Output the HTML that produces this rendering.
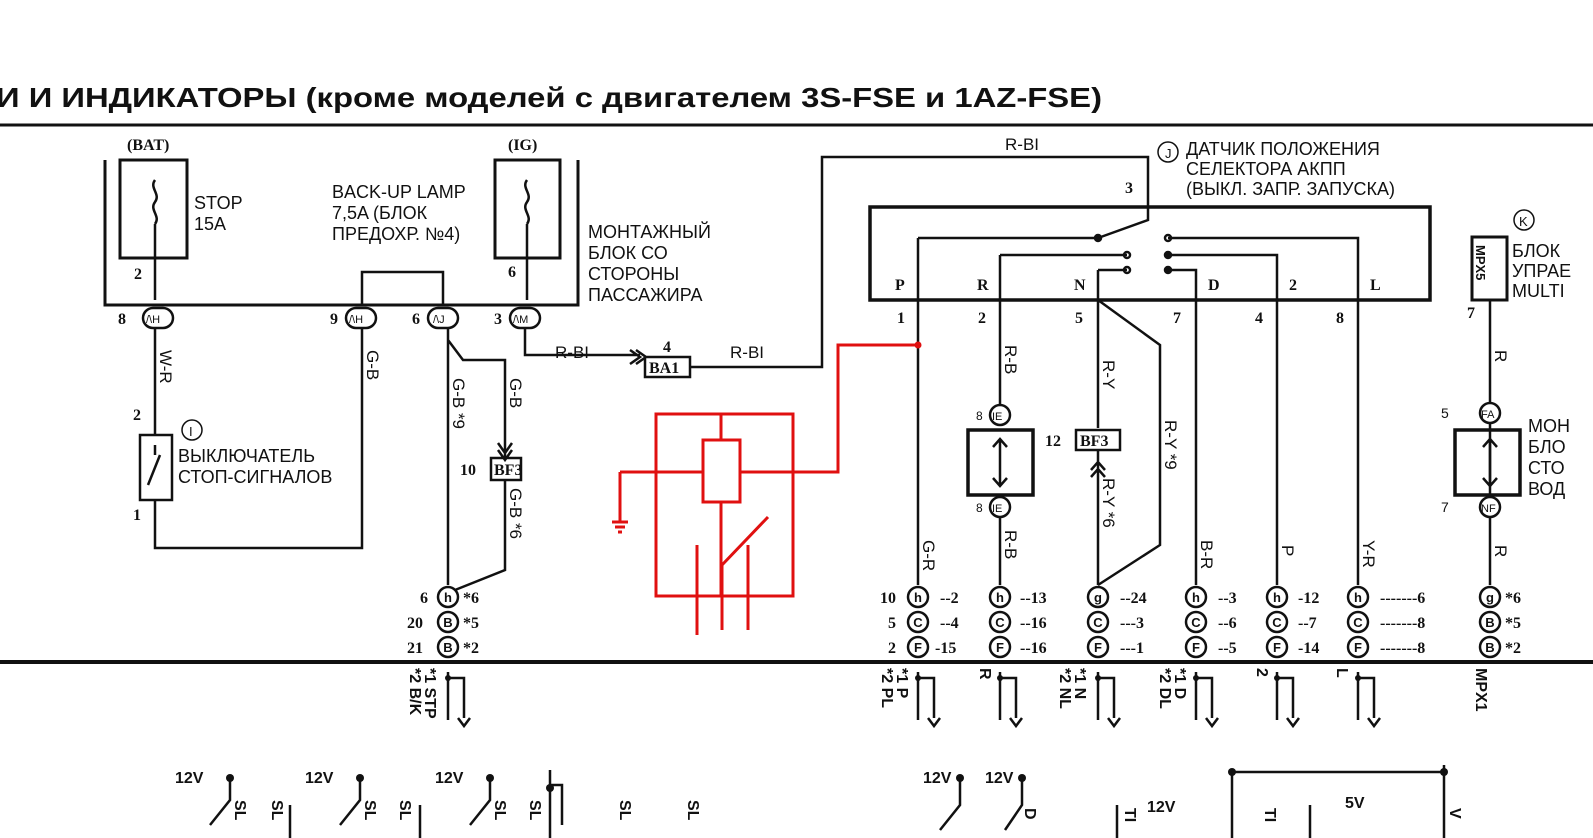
<!DOCTYPE html>
<html><head><meta charset="utf-8"><style>
html,body{margin:0;padding:0;background:#fff}
svg{display:block}
text{font-family:"Liberation Sans",sans-serif;fill:#111}
.n{font-family:"Liberation Serif",serif;font-size:16px;font-weight:bold}
</style></head><body>
<svg width="1593" height="838" viewBox="0 0 1593 838" xmlns="http://www.w3.org/2000/svg">
<g stroke="#111" fill="none" stroke-width="2.5">
<line x1="0" y1="125" x2="1593" y2="125" stroke-width="3"/>
<line x1="0" y1="662" x2="1593" y2="662" stroke-width="4"/>
<polyline points="105,160 105,305 578,305 578,160" stroke-width="3"/>
<rect x="120" y="160" width="67" height="98" stroke-width="3"/>
<rect x="495" y="160" width="65" height="98" stroke-width="3"/>
<path d="M155,180 c-6,8 6,14 0,22 c-6,8 6,14 0,22 M155,224 V300"/>
<path d="M527,180 c-6,8 6,14 0,22 c-6,8 6,14 0,22 M527,224 V300"/>
<path d="M362,305 V272 H443 V305"/>
<rect x="143" y="308" width="30" height="20" rx="10"/>
<rect x="346" y="308" width="30" height="20" rx="10"/>
<rect x="428" y="308" width="30" height="20" rx="10"/>
<rect x="510" y="308" width="30" height="20" rx="10"/>
<path d="M155,328 V435 M140,435 h32 v65 h-32 z M155,445 l0,10 M148,485 l12,-30 M155,500 V548 H362 V328"/>
<path d="M448,328 V585 M448,340 l15,20 H505 V458 M498,443 l7,10 l7,-10 M498,450 l7,10 l7,-10 M491,458 h30 v22 h-30 z M505,480 V570 L455,590"/>
<path d="M525,328 V355 H640 M630,350 l10,7 l-10,7 M636,350 l10,7 l-10,7 M645,357 h45 v20 h-45 z M690,367 H822 V157 H1148 V220 L1098,238"/>
<circle cx="448" cy="597" r="10"/><circle cx="448" cy="622" r="10"/><circle cx="448" cy="647" r="10"/>
<path d="M448,672 V720 M448,678 h16 v40 M458,718 l6,8 l6,-8"/>
<rect x="870" y="207" width="560" height="93" stroke-width="3.5"/>
<path d="M918,238 H1098 M918,238 V585 M1000,255 H1127 M1000,255 V405 M1098,270 H1127 M1098,270 V300 M1098,300 L1160,345 V545 L1098,585 M1098,300 V428"/>
<path d="M1168,238 H1358 V585 M1168,255 H1277 V585 M1168,270 H1196 V585"/>
<circle cx="1098" cy="238" r="3" fill="#111"/><circle cx="1127" cy="255" r="3"/><circle cx="1127" cy="270" r="3"/>
<circle cx="1168" cy="238" r="3"/><circle cx="1168" cy="255" r="3" fill="#111"/><circle cx="1168" cy="270" r="3" fill="#111"/>
<rect x="968" y="430" width="65" height="65" stroke-width="3.5"/>
<circle cx="1000" cy="415" r="10"/><circle cx="1000" cy="507" r="10"/>
<path d="M1000,440 V485 M993,447 l7,-8 l7,8 M993,478 l7,8 l7,-8 M1000,517 V585"/>
<rect x="1076" y="430" width="44" height="20"/>
<path d="M1098,450 V585 M1091,470 l7,-8 l7,8 M1091,477 l7,-8 l7,8"/>
<rect x="1472" y="237" width="35" height="63" stroke-width="3"/>
<path d="M1490,300 V403 M1490,423 V497 M1490,517 V585"/>
<circle cx="1490" cy="413" r="10"/><circle cx="1490" cy="507" r="10"/>
<rect x="1455" y="430" width="65" height="65" stroke-width="3.5"/>
<path d="M1490,440 V485 M1483,447 l7,-8 l7,8 M1483,478 l7,8 l7,-8"/>
<g>
<circle cx="918" cy="597" r="10"/><circle cx="918" cy="622" r="10"/><circle cx="918" cy="647" r="10"/>
<circle cx="1000" cy="597" r="10"/><circle cx="1000" cy="622" r="10"/><circle cx="1000" cy="647" r="10"/>
<circle cx="1098" cy="597" r="10"/><circle cx="1098" cy="622" r="10"/><circle cx="1098" cy="647" r="10"/>
<circle cx="1196" cy="597" r="10"/><circle cx="1196" cy="622" r="10"/><circle cx="1196" cy="647" r="10"/>
<circle cx="1277" cy="597" r="10"/><circle cx="1277" cy="622" r="10"/><circle cx="1277" cy="647" r="10"/>
<circle cx="1358" cy="597" r="10"/><circle cx="1358" cy="622" r="10"/><circle cx="1358" cy="647" r="10"/>
<circle cx="1490" cy="597" r="10"/><circle cx="1490" cy="622" r="10"/><circle cx="1490" cy="647" r="10"/>
</g>
<path d="M918,672 V720 M918,678 h16 v40 M928,718 l6,8 l6,-8"/>
<path d="M1000,672 V720 M1000,678 h16 v40 M1010,718 l6,8 l6,-8"/>
<path d="M1098,672 V720 M1098,678 h16 v40 M1108,718 l6,8 l6,-8"/>
<path d="M1196,672 V720 M1196,678 h16 v40 M1206,718 l6,8 l6,-8"/>
<path d="M1277,672 V720 M1277,678 h16 v40 M1287,718 l6,8 l6,-8"/>
<path d="M1358,672 V720 M1358,678 h16 v40 M1368,718 l6,8 l6,-8"/>
<path d="M230,780 V800 L210,825 M360,780 V800 L340,825 M490,780 V800 L470,825 M550,770 V838 M550,785 h12 v40 M290,805 V838 M420,805 V838"/>
<path d="M960,780 V805 L940,830 M1022,780 V805 L1005,830 M1117,805 V838 M1232,770 V838 M1232,772 H1444 M1444,765 V838 M1310,805 V838"/>
</g>
<g fill="#111">
<circle cx="230" cy="778" r="4"/><circle cx="360" cy="778" r="4"/><circle cx="490" cy="778" r="4"/><circle cx="550" cy="788" r="4"/>
<circle cx="960" cy="778" r="4"/><circle cx="1022" cy="778" r="4"/><circle cx="1232" cy="772" r="4"/><circle cx="1444" cy="772" r="4"/>
<circle cx="448" cy="678" r="3"/><circle cx="918" cy="678" r="3"/><circle cx="1000" cy="678" r="3"/><circle cx="1098" cy="678" r="3"/><circle cx="1196" cy="678" r="3"/><circle cx="1277" cy="678" r="3"/><circle cx="1358" cy="678" r="3"/>
</g>
<g stroke="#e01010" fill="none" stroke-width="3">
<rect x="656" y="414" width="137" height="182"/>
<rect x="703" y="440" width="37" height="62"/>
<path d="M721,440 V414 M721,502 V596 M620,472 H703 M740,472 H838 V345 H918 M620,472 V522 M612,522 h16 M615,527 h10 M618,532 h4"/>
<path d="M697,545 V635 M722,565 V630 M748,545 V630 M722,565 L768,517"/>
</g>
<circle cx="918" cy="345" r="3.5" fill="#e01010"/>
<text x="-4" y="107" font-size="28" font-weight="bold" textLength="1106" lengthAdjust="spacingAndGlyphs">И И ИНДИКАТОРЫ (кроме моделей с двигателем 3S-FSE и 1AZ-FSE)</text>
<g font-size="15">
<text x="127" y="150" class="n">(BAT)</text><text x="508" y="150" class="n">(IG)</text>
<text x="194" y="209" font-size="18">STOP</text><text x="194" y="230" font-size="18">15A</text>
<text x="332" y="198" font-size="18">BACK-UP LAMP</text><text x="332" y="219" font-size="18">7,5A (БЛОК</text><text x="332" y="240" font-size="18">ПРЕДОХР. №4)</text>
<text x="588" y="238" font-size="18">МОНТАЖНЫЙ</text><text x="588" y="259" font-size="18">БЛОК СО</text><text x="588" y="280" font-size="18">СТОРОНЫ</text><text x="588" y="301" font-size="18">ПАССАЖИРА</text>
<text x="134" y="279" class="n">2</text><text x="508" y="277" class="n">6</text>
<text x="118" y="324" class="n">8</text><text x="330" y="324" class="n">9</text><text x="412" y="324" class="n">6</text><text x="494" y="324" class="n">3</text>
<text x="146" y="323" font-size="11">/\H</text><text x="349" y="323" font-size="11">/\H</text><text x="433" y="323" font-size="11">/\J</text><text x="513" y="323" font-size="11">/\M</text>
<text x="133" y="420" class="n">2</text><text x="133" y="520" class="n">1</text>
<circle cx="192" cy="430" r="10" fill="none" stroke="#111" stroke-width="1.5"/><text x="189" y="436" font-size="13">I</text>
<text x="178" y="462" font-size="18">ВЫКЛЮЧАТЕЛЬ</text><text x="178" y="483" font-size="18">СТОП-СИГНАЛОВ</text>
<text x="555" y="358" font-size="17">R-BI</text><text x="730" y="358" font-size="17">R-BI</text><text x="1005" y="150" font-size="17">R-BI</text>
<text x="663" y="352" class="n">4</text><text x="649" y="373" font-size="13" class="n">BA1</text>
<text x="494" y="475" font-size="13" class="n">BF3</text><text x="460" y="475" class="n">10</text>
<text x="1080" y="446" font-size="13" class="n">BF3</text><text x="1045" y="446" class="n">12</text>
<text x="976" y="420" font-size="12">8</text><text x="992" y="420" font-size="11">IE</text><text x="976" y="512" font-size="12">8</text><text x="992" y="512" font-size="11">IE</text>
<text x="1441" y="418" font-size="14">5</text><text x="1481" y="418" font-size="11">FA</text><text x="1441" y="512" font-size="14">7</text><text x="1481" y="512" font-size="11">NF</text>
<text x="1467" y="318" class="n">7</text>
<text x="1528" y="432" font-size="18">МОН</text><text x="1528" y="453" font-size="18">БЛО</text><text x="1528" y="474" font-size="18">СТО</text><text x="1528" y="495" font-size="18">ВОД</text>
<circle cx="1524" cy="220" r="10" fill="none" stroke="#111" stroke-width="1.5"/><text x="1519" y="226" font-size="13">K</text>
<text x="1512" y="257" font-size="18">БЛОК</text><text x="1512" y="277" font-size="18">УПРАЕ</text><text x="1512" y="297" font-size="18">MULTI</text>
<circle cx="1168" cy="152" r="10" fill="none" stroke="#111" stroke-width="1.5"/><text x="1165" y="158" font-size="13">J</text>
<text x="1186" y="155" font-size="18">ДАТЧИК ПОЛОЖЕНИЯ</text><text x="1186" y="175" font-size="18">СЕЛЕКТОРА АКПП</text><text x="1186" y="195" font-size="18">(ВЫКЛ. ЗАПР. ЗАПУСКА)</text>
<text x="1125" y="193" class="n">3</text>
<text x="895" y="290" class="n">P</text><text x="977" y="290" class="n">R</text><text x="1074" y="290" class="n">N</text><text x="1208" y="290" class="n">D</text><text x="1289" y="290" class="n">2</text><text x="1370" y="290" class="n">L</text>
<text x="897" y="323" class="n">1</text><text x="978" y="323" class="n">2</text><text x="1075" y="323" class="n">5</text><text x="1173" y="323" class="n">7</text><text x="1255" y="323" class="n">4</text><text x="1336" y="323" class="n">8</text>
<text x="880" y="603" class="n">10</text><text x="888" y="628" class="n">5</text><text x="888" y="653" class="n">2</text>
<text x="940" y="603" class="n">--2</text><text x="940" y="628" class="n">--4</text><text x="935" y="653" class="n">-15</text>
<text x="1020" y="603" class="n">--13</text><text x="1020" y="628" class="n">--16</text><text x="1020" y="653" class="n">--16</text>
<text x="1120" y="603" class="n">--24</text><text x="1120" y="628" class="n">---3</text><text x="1120" y="653" class="n">---1</text>
<text x="1218" y="603" class="n">--3</text><text x="1218" y="628" class="n">--6</text><text x="1218" y="653" class="n">--5</text>
<text x="1298" y="603" class="n">-12</text><text x="1298" y="628" class="n">--7</text><text x="1298" y="653" class="n">-14</text>
<text x="1380" y="603" class="n">-------6</text><text x="1380" y="628" class="n">-------8</text><text x="1380" y="653" class="n">-------8</text>
<text x="1505" y="603" class="n">*6</text><text x="1505" y="628" class="n">*5</text><text x="1505" y="653" class="n">*2</text>
<text x="420" y="603" class="n">6</text><text x="407" y="628" class="n">20</text><text x="407" y="653" class="n">21</text>
<text x="463" y="603" class="n">*6</text><text x="463" y="628" class="n">*5</text><text x="463" y="653" class="n">*2</text>
</g>
<g font-size="13" font-weight="bold" text-anchor="middle">
<text x="448" y="602">h</text><text x="448" y="627">B</text><text x="448" y="652">B</text>
<text x="918" y="602">h</text><text x="918" y="627">C</text><text x="918" y="652">F</text>
<text x="1000" y="602">h</text><text x="1000" y="627">C</text><text x="1000" y="652">F</text>
<text x="1098" y="602">g</text><text x="1098" y="627">C</text><text x="1098" y="652">F</text>
<text x="1196" y="602">h</text><text x="1196" y="627">C</text><text x="1196" y="652">F</text>
<text x="1277" y="602">h</text><text x="1277" y="627">C</text><text x="1277" y="652">F</text>
<text x="1358" y="602">h</text><text x="1358" y="627">C</text><text x="1358" y="652">F</text>
<text x="1490" y="602">g</text><text x="1490" y="627">B</text><text x="1490" y="652">B</text>
</g>
<g font-size="17">
<text transform="translate(160,350) rotate(90)">W-R</text>
<text transform="translate(367,350) rotate(90)">G-B</text>
<text transform="translate(453,378) rotate(90)">G-B *9</text>
<text transform="translate(510,378) rotate(90)">G-B</text>
<text transform="translate(510,488) rotate(90)">G-B *6</text>
<text transform="translate(1005,345) rotate(90)">R-B</text>
<text transform="translate(1005,530) rotate(90)">R-B</text>
<text transform="translate(1103,360) rotate(90)">R-Y</text>
<text transform="translate(1103,478) rotate(90)">R-Y *6</text>
<text transform="translate(1165,420) rotate(90)">R-Y *9</text>
<text transform="translate(923,540) rotate(90)">G-R</text>
<text transform="translate(1201,540) rotate(90)">B-R</text>
<text transform="translate(1282,545) rotate(90)">P</text>
<text transform="translate(1363,540) rotate(90)">Y-R</text>
<text transform="translate(1495,350) rotate(90)">R</text>
<text transform="translate(1495,545) rotate(90)">R</text>
</g>
<g font-size="16" font-family="Liberation Serif" font-weight="bold">
<text transform="translate(1476,245) rotate(90)" font-size="13">MPX5</text>
<text transform="translate(425,668) rotate(90)">*1 STP</text><text transform="translate(410,668) rotate(90)">*2 B/K</text>
<text transform="translate(897,668) rotate(90)">*1 P</text><text transform="translate(882,668) rotate(90)">*2 PL</text>
<text transform="translate(980,668) rotate(90)">R</text>
<text transform="translate(1075,668) rotate(90)">*1 N</text><text transform="translate(1060,668) rotate(90)">*2 NL</text>
<text transform="translate(1175,668) rotate(90)">*1 D</text><text transform="translate(1160,668) rotate(90)">*2 DL</text>
<text transform="translate(1257,668) rotate(90)">2</text><text transform="translate(1337,668) rotate(90)">L</text>
<text transform="translate(1476,668) rotate(90)">MPX1</text>
<text x="175" y="783">12V</text><text x="305" y="783">12V</text><text x="435" y="783">12V</text>
<text x="923" y="783">12V</text><text x="985" y="783">12V</text><text x="1147" y="812">12V</text><text x="1345" y="808">5V</text>
<text transform="translate(235,800) rotate(90)">SL</text><text transform="translate(272,800) rotate(90)">SL</text>
<text transform="translate(365,800) rotate(90)">SL</text><text transform="translate(400,800) rotate(90)">SL</text>
<text transform="translate(495,800) rotate(90)">SL</text><text transform="translate(530,800) rotate(90)">SL</text>
<text transform="translate(620,800) rotate(90)">SL</text><text transform="translate(688,800) rotate(90)">SL</text>
<text transform="translate(1025,808) rotate(90)">D</text><text transform="translate(1125,808) rotate(90)">TI</text>
<text transform="translate(1265,808) rotate(90)">TI</text><text transform="translate(1450,808) rotate(90)">V</text>
</g>
</svg>
</body></html>
